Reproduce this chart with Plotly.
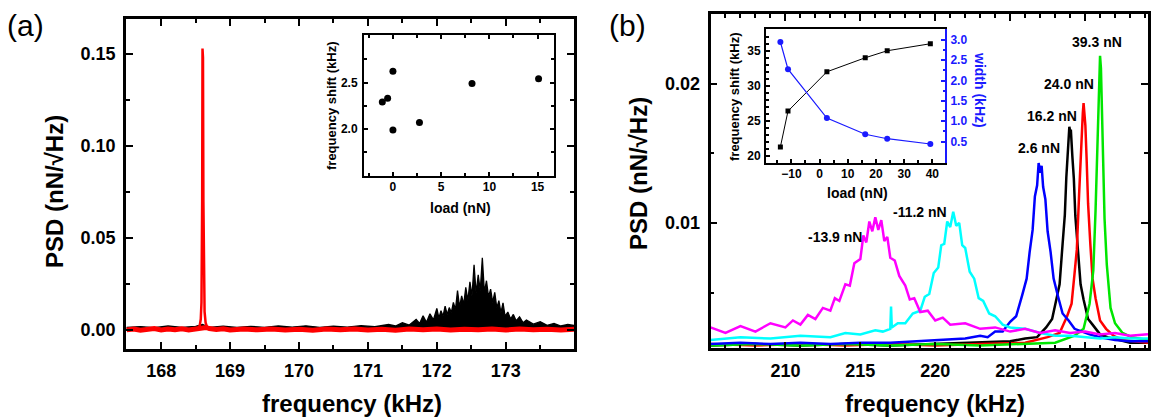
import plotly.graph_objects as go

W, H = 1151, 418
FONT = "Liberation Sans, Arial, sans-serif"
BLUE = "#1a1aff"


def px(x):
    return x / W


def py(y):
    return 1 - y / H


# ---------------- panel (a) : PSD spectra ----------------
# red: noisy baseline, and the narrow resonance at 168.6 kHz
a_red_f = [167.5, 167.6, 167.7, 167.8, 167.9, 168.0, 168.1, 168.2, 168.3, 168.4, 168.5, 168.55,
           168.65, 168.7, 168.8, 168.9, 169.0, 169.2, 169.4, 169.6, 169.8, 170.0, 170.2, 170.4,
           170.6, 170.8, 171.0, 171.2, 171.4, 171.6, 171.8, 172.0, 172.2, 172.4, 172.6, 172.8,
           173.0, 173.2, 173.4, 173.6, 173.8, 174.0]
a_red_psd = [0.0001, 0.0006, -0.0001, 0.0004, 0.0008, 0.0000, 0.0005, 0.0002, 0.0007, 0.0001, 0.0006, 0.0012,
             0.0014, 0.0008, 0.0003, 0.0007, 0.0000, 0.0005, 0.0001, 0.0006, 0.0000, 0.0004, -0.0001, 0.0005,
             0.0001, 0.0006, 0.0000, 0.0004, -0.0001, 0.0005, 0.0001, 0.0006, 0.0000, 0.0004, 0.0001, 0.0005,
             0.0000, 0.0006, 0.0001, 0.0004, 0.0000, 0.0005]
a_red_peak_f = [168.53, 168.56, 168.575, 168.585, 168.595, 168.6, 168.607, 168.613, 168.62, 168.63,
                168.645, 168.67]
a_red_peak_psd = [0.0008, 0.0025, 0.0060, 0.015, 0.070, 0.153, 0.148, 0.070, 0.028, 0.010, 0.0040, 0.0012]

a_blk_f = [167.5, 167.7, 167.9, 168.1, 168.3, 168.5, 168.6, 168.7, 168.9, 169.1, 169.3, 169.5,
           169.7, 169.9, 170.1, 170.3, 170.5, 170.7, 170.9, 171.1, 171.3, 171.4, 171.5, 171.6,
           171.7, 171.75, 171.8, 171.85, 171.9, 171.95, 172.0, 172.03, 172.06, 172.09, 172.12,
           172.15, 172.18, 172.21, 172.24, 172.27, 172.3, 172.33, 172.36, 172.39, 172.42, 172.45,
           172.48, 172.51, 172.54, 172.57, 172.6, 172.63, 172.66, 172.69, 172.72, 172.75, 172.78,
           172.81, 172.84, 172.87, 172.9, 172.93, 172.96, 172.99, 173.03, 173.07, 173.11, 173.15,
           173.2, 173.25, 173.3, 173.4, 173.5, 173.6, 173.7, 173.8, 173.9, 174.0]
a_blk_psd = [0.0014, 0.0019, 0.0013, 0.0022, 0.0015, 0.0020, 0.0030, 0.0015, 0.0021, 0.0014, 0.0020, 0.0015,
             0.0022, 0.0016, 0.0023, 0.0015, 0.0021, 0.0016, 0.0024, 0.0018, 0.0030, 0.0022, 0.0040, 0.0027,
             0.0058, 0.0036, 0.0078, 0.0042, 0.0088, 0.0055, 0.0118, 0.0065, 0.0105, 0.0075, 0.0130,
             0.0085, 0.0122, 0.0095, 0.0150, 0.0110, 0.0215, 0.0125, 0.0185, 0.0140, 0.0232, 0.0160,
             0.0262, 0.0185, 0.0355, 0.0200, 0.0300, 0.0215, 0.0392, 0.0205, 0.0268, 0.0180, 0.0222,
             0.0150, 0.0205, 0.0120, 0.0160, 0.0095, 0.0148, 0.0075, 0.0098, 0.0060, 0.0085, 0.0050,
             0.0072, 0.0040, 0.0055, 0.0032, 0.0045, 0.0026, 0.0036, 0.0022, 0.0030, 0.0024]

# inset (a): frequency shift vs load
a_load = [-1.1, -0.55, 0.0, 0.0, 2.75, 8.2, 15.1]
a_shift = [2.29, 2.33, 2.62, 1.99, 2.07, 2.49, 2.54]

# ---------------- panel (b) : PSD spectra at different loads ----------------
b_blk_f = [205, 208, 211, 214, 217, 220, 223, 225, 226, 226.8, 227.4, 227.8, 228.1, 228.3, 228.5,
           228.65, 228.75, 228.85, 228.95, 229.0, 229.05, 229.15, 229.25, 229.35, 229.5, 229.7,
           229.9, 230.2, 230.5, 231, 231.5, 232.2, 233, 234.2]
b_blk_psd = [0.0012, 0.0013, 0.0012, 0.0013, 0.0012, 0.0013, 0.0014, 0.0015, 0.0017, 0.0018, 0.0025,
             0.0031, 0.0046, 0.0056, 0.0085, 0.0106, 0.0133, 0.0149, 0.0169, 0.0166, 0.0167, 0.0148,
             0.0132, 0.0105, 0.0084, 0.0056, 0.0045, 0.0031, 0.0027, 0.0020, 0.0018, 0.0016, 0.0014, 0.0014]

b_red_f = [205, 208, 211, 214, 217, 220, 223, 226, 227.5, 228.3, 228.8, 229.1, 229.3, 229.45, 229.6,
           229.7, 229.78, 229.85, 229.9, 229.95, 230.02, 230.1, 230.2, 230.35, 230.5, 230.7, 231.0,
           231.4, 231.9, 232.5, 233.2, 234.2]
b_red_psd = [0.0013, 0.0012, 0.0013, 0.0012, 0.0013, 0.0012, 0.0013, 0.0014, 0.0018, 0.0021, 0.0033,
             0.0042, 0.0064, 0.0081, 0.0120, 0.0143, 0.0172, 0.0179, 0.0186, 0.0180, 0.0170, 0.0147,
             0.0114, 0.0085, 0.0060, 0.0046, 0.0030, 0.0024, 0.0019, 0.0016, 0.0015, 0.0014]

b_grn_f = [205, 208, 211, 214, 217, 220, 223, 226, 228, 229.3, 229.9, 230.3, 230.55, 230.7, 230.8,
           230.88, 230.94, 231.0, 231.06, 231.12, 231.2, 231.3, 231.45, 231.7, 232.0, 232.5, 233.1,
           233.7, 234.2]
b_grn_psd = [0.0012, 0.0013, 0.0012, 0.0013, 0.0012, 0.0013, 0.0012, 0.0013, 0.0014, 0.0019, 0.0024,
             0.0042, 0.0066, 0.0109, 0.0144, 0.0187, 0.0205, 0.0220, 0.0211, 0.0182, 0.0149, 0.0103,
             0.0070, 0.0039, 0.0028, 0.0021, 0.0018, 0.0017, 0.0016]

b_blu_f = [205, 207, 209, 211, 213, 215, 217, 219, 221, 222, 223, 223.5, 224, 224.5, 225, 225.4,
           225.8, 226.1, 226.3, 226.5, 226.65, 226.8, 226.9, 227.0, 227.1, 227.2, 227.35, 227.5,
           227.7, 227.9, 228.2, 228.5, 228.9, 229.3, 229.8, 230.3, 231, 232, 233, 234.2]
b_blu_psd = [0.0013, 0.0014, 0.0013, 0.0014, 0.0013, 0.0014, 0.0014, 0.0015, 0.0016, 0.0017, 0.0019,
             0.0018, 0.0022, 0.0022, 0.0029, 0.0033, 0.0048, 0.0060, 0.0079, 0.0095, 0.0119, 0.0127,
             0.0143, 0.0136, 0.0141, 0.0126, 0.0117, 0.0094, 0.0079, 0.0060, 0.0047, 0.0035, 0.0030,
             0.0024, 0.0022, 0.0020, 0.0018, 0.0016, 0.0015, 0.0015]

b_cyn_f = [205, 207, 209, 211, 213, 214, 215, 216, 216.5, 217, 217.05, 217.1, 217.5, 218, 218.5,
           219, 219.3, 219.6, 219.9, 220.2, 220.4, 220.6, 220.8, 221.0, 221.2, 221.4, 221.6, 221.8,
           222.0, 222.3, 222.6, 222.9, 223.2, 223.6, 224, 224.5, 225, 226, 227, 228, 229, 230, 231,
           232, 233, 234.2]
b_cyn_psd = [0.0016, 0.0018, 0.0017, 0.0019, 0.0018, 0.0021, 0.0020, 0.0023, 0.0022, 0.0024, 0.0040,
             0.0025, 0.0028, 0.0028, 0.0035, 0.0037, 0.0047, 0.0049, 0.0064, 0.0068, 0.0084, 0.0085,
             0.0101, 0.0097, 0.0108, 0.0098, 0.0100, 0.0084, 0.0082, 0.0065, 0.0060, 0.0046, 0.0044,
             0.0035, 0.0033, 0.0027, 0.0025, 0.0024, 0.0021, 0.0019, 0.0019, 0.0018, 0.0017, 0.0018,
             0.0017, 0.0017]

b_mag_f = [205, 206, 207, 208, 209, 210, 210.5, 211, 211.5, 212, 212.5, 213, 213.3, 213.6, 214,
           214.3, 214.6, 215, 215.2, 215.4, 215.6, 215.8, 216.0, 216.2, 216.4, 216.6, 216.8, 217.0,
           217.3, 217.6, 218, 218.3, 218.6, 219, 219.5, 220, 220.5, 221, 222, 223, 224, 225, 226,
           227, 228, 229, 230, 231, 232, 233, 234.2]
b_mag_psd = [0.0025, 0.0021, 0.0026, 0.0022, 0.0028, 0.0025, 0.0030, 0.0027, 0.0034, 0.0031, 0.0039,
             0.0037, 0.0046, 0.0044, 0.0056, 0.0055, 0.0071, 0.0074, 0.0091, 0.0086, 0.0101, 0.0094,
             0.0104, 0.0095, 0.0102, 0.0087, 0.0090, 0.0075, 0.0073, 0.0062, 0.0055, 0.0045, 0.0046,
             0.0036, 0.0037, 0.0030, 0.0032, 0.0027, 0.0028, 0.0024, 0.0025, 0.0022, 0.0024, 0.0021,
             0.0023, 0.0021, 0.0022, 0.0020, 0.0021, 0.0019, 0.0020]

b_label_text = ["-13.9 nN", "-11.2 nN", "2.6 nN", "16.2 nN", "24.0 nN", "39.3 nN"]
b_label_f = [213.3, 219.0, 226.9, 227.8, 228.9, 230.8]
b_label_psd = [0.0090, 0.0108, 0.0154, 0.0177, 0.0200, 0.0230]

# inset (b): frequency shift and width vs load
b_load = [-13.9, -11.2, 2.6, 16.2, 24.0, 39.3]
b_shift = [21.3, 26.4, 32.0, 34.0, 35.0, 36.0]
b_width = [2.95, 2.28, 1.08, 0.68, 0.57, 0.44]


def axis(size=18, tl=7, ml=4, lw=2.5, color="black", standoff=4, **kw):
    d = dict(showline=True, linecolor=color, linewidth=lw, mirror="allticks",
             ticks="inside", ticklen=tl, tickwidth=2, tickcolor=color,
             showgrid=False, zeroline=False, ticklabelstandoff=standoff,
             tickfont=dict(family=FONT, size=size, color=color, weight="bold"),
             minor=dict(ticks="inside", ticklen=ml, tickwidth=1.5, tickcolor=color, showgrid=False))
    mn = kw.pop("minor", None)
    if mn:
        d["minor"].update(mn)
    d.update(kw)
    return d


fig = go.Figure()

# panel (a)
fig.add_trace(go.Scatter(x=a_blk_f, y=a_blk_psd, mode="lines", fill="tozeroy", fillcolor="black",
                         line=dict(color="black", width=1.3), xaxis="x", yaxis="y"))
fig.add_trace(go.Scatter(x=a_red_f, y=a_red_psd, mode="lines", line=dict(color="#ff0000", width=5),
                         xaxis="x", yaxis="y"))
fig.add_trace(go.Scatter(x=a_red_peak_f, y=a_red_peak_psd, mode="lines",
                         line=dict(color="#ff0000", width=2.5), xaxis="x", yaxis="y"))
fig.add_trace(go.Scatter(x=a_load, y=a_shift, mode="markers",
                         marker=dict(color="black", size=7), xaxis="x2", yaxis="y2"))

# panel (b)
for f, p, c in [(b_blk_f, b_blk_psd, "black"), (b_red_f, b_red_psd, "#ff0000"),
                (b_grn_f, b_grn_psd, "#00e600"), (b_blu_f, b_blu_psd, "#0000ff"),
                (b_cyn_f, b_cyn_psd, "#00ffff"), (b_mag_f, b_mag_psd, "#ff00ff")]:
    fig.add_trace(go.Scatter(x=f, y=p, mode="lines", line=dict(color=c, width=2.5),
                             xaxis="x3", yaxis="y3"))

fig.add_trace(go.Scatter(x=b_load, y=b_shift, mode="lines+markers",
                         line=dict(color="black", width=1),
                         marker=dict(color="black", size=5, symbol="square"),
                         xaxis="x4", yaxis="y4"))
fig.add_trace(go.Scatter(x=b_load, y=b_width, mode="lines+markers",
                         line=dict(color=BLUE, width=1.2),
                         marker=dict(color=BLUE, size=6),
                         xaxis="x4", yaxis="y5"))

ann = []


def label(text, x, y, size, angle=0, color="black", bold=True):
    ann.append(dict(text=text, x=px(x), y=py(y), xref="paper", yref="paper", showarrow=False,
                    textangle=angle, xanchor="center", yanchor="middle",
                    font=dict(family=FONT, size=size, color=color, weight="bold" if bold else "normal")))


label("(a)", 25, 26, 30, bold=False)
label("(b)", 627, 26, 30, bold=False)
label("PSD (nN/√Hz)", 55, 192, 24, angle=-90)
label("frequency (kHz)", 352, 403, 24)
label("PSD (nN/√Hz)", 638, 174, 24, angle=-90)
label("frequency (kHz)", 935, 403, 24)
label("load (nN)", 460, 208, 14)
label("frequency shift (kHz)", 331, 106, 13, angle=-90)
label("load (nN)", 857, 193, 14)
label("frequency shift (kHz)", 735, 97, 13, angle=-90)
label("width (kHz)", 980, 90, 14, angle=90, color=BLUE)

for t, f, p in zip(b_label_text, b_label_f, b_label_psd):
    ann.append(dict(text=t, x=f, y=p, xref="x3", yref="y3", showarrow=False,
                    font=dict(family=FONT, size=14, color="black", weight="bold")))

fig.update_layout(
    width=W, height=H, autosize=False, showlegend=False,
    margin=dict(l=0, r=0, t=0, b=0),
    paper_bgcolor="white", plot_bgcolor="white",
    xaxis=axis(domain=[px(126), px(574)], range=[167.49, 173.99], anchor="y",
               tickvals=[168, 169, 170, 171, 172, 173], minor=dict(dtick=0.5, tick0=0)),
    yaxis=axis(domain=[py(349), py(19)], range=[-0.0103, 0.169], anchor="x",
               dtick=0.05, tick0=0, tickformat=".2f", minor=dict(dtick=0.025, tick0=0)),
    xaxis2=axis(size=12, tl=4, ml=3, lw=2, standoff=-1, domain=[px(364), px(554)], range=[-3.0, 16.7],
                anchor="y2", tickvals=[0, 5, 10, 15], minor=dict(tickvals=[-2.5, 2.5, 7.5, 12.5])),
    yaxis2=axis(size=12, tl=4, ml=3, lw=2, standoff=2, domain=[py(175.7), py(35)], range=[1.5, 3.01],
                anchor="x2", tickvals=[2.0, 2.5], tickformat=".1f", minor=dict(tickvals=[1.75, 2.25, 2.75])),
    xaxis3=axis(domain=[px(710.5), px(1148)], range=[205, 234.2], anchor="y3",
                tickvals=[210, 215, 220, 225, 230], minor=dict(dtick=1, tick0=0)),
    yaxis3=axis(domain=[py(348.3), py(14)], range=[0.001, 0.025], anchor="x3",
                dtick=0.01, tick0=0, tickformat=".2f", minor=dict(dtick=0.005, tick0=0)),
    xaxis4=axis(size=12, tl=4, ml=2.5, lw=2, standoff=-1, mirror=True, domain=[px(766), px(945)],
                range=[-19, 44.5], anchor="y4", tickvals=[-10, 0, 10, 20, 30, 40],
                minor=dict(tickvals=[-15, -5, 5, 15, 25, 35])),
    yaxis4=axis(size=12, tl=4, ml=2.5, lw=2, standoff=1, mirror=False, domain=[py(162.7), py(29)],
                range=[19.05, 38.1], anchor="x4", tickvals=[20, 25, 30, 35]),
    yaxis5=axis(size=12, tl=4, ml=2.5, lw=2, standoff=1, color=BLUE, mirror=False, overlaying="y4",
                side="right", anchor="x4", range=[-0.02, 3.27], tickvals=[0.5, 1.0, 1.5, 2.0, 2.5, 3.0],
                tickformat=".1f", minor=dict(tickvals=[0.75, 1.25, 1.75, 2.25, 2.75])),
    annotations=ann,
)

fig.write_html("out.html", config={"displayModeBar": False},
               post_script="document.body.style.margin='0';")
